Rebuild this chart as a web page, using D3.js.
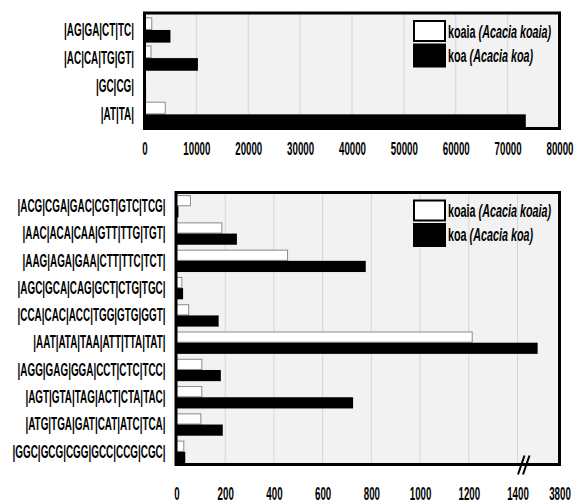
<!DOCTYPE html>
<html><head><meta charset="utf-8">
<script src="https://cdn.jsdelivr.net/npm/d3@7"></script>
<style>
html,body{margin:0;padding:0;background:#fff;}
svg{display:block;}
</style></head><body>
<svg id="chart" width="579" height="504"></svg>
<script>
// ---- data ----
const seriesNames = ["koaia", "koa"];
const seriesLatin = ["(Acacia koaia)", "(Acacia koa)"];

const topCategories = ["|AG|GA|CT|TC|", "|AC|CA|TG|GT|", "|GC|CG|", "|AT|TA|"];
const topKoaia = [1400, 1250, 120, 4000];
const topKoa = [5000, 10300, 300, 73500];
const topTicks = [0, 10000, 20000, 30000, 40000, 50000, 60000, 70000, 80000];

const bottomCategories = [
  "|ACG|CGA|GAC|CGT|GTC|TCG|",
  "|AAC|ACA|CAA|GTT|TTG|TGT|",
  "|AAG|AGA|GAA|CTT|TTC|TCT|",
  "|AGC|GCA|CAG|GCT|CTG|TGC|",
  "|CCA|CAC|ACC|TGG|GTG|GGT|",
  "|AAT|ATA|TAA|ATT|TTA|TAT|",
  "|AGG|GAG|GGA|CCT|CTC|TCC|",
  "|AGT|GTA|TAG|ACT|CTA|TAC|",
  "|ATG|TGA|GAT|CAT|ATC|TCA|",
  "|GGC|GCG|CGG|GCC|CCG|CGC|"
];
const bottomKoaia = [57, 186, 456, 22, 50, 1214, 104, 104, 100, 30];
const bottomKoa = [8, 248, 777, 27, 173, 2550, 182, 725, 190, 36];
const bottomTicks = [0, 200, 400, 600, 800, 1000, 1200, 1400, 3800];

// ---- drawing ----
const FONT = "'Liberation Sans', Arial, sans-serif";
const svg = d3.select("#chart");

function drawPanel(cfg) {
  const { box, categories, koaia, koa, x, ticks, grid, tickPad, padIn, padOut } = cfg;
  const g = svg.append("g");
  g.append("rect")
    .attr("x", box.x0).attr("y", box.y0)
    .attr("width", box.x1 - box.x0).attr("height", box.y1 - box.y0)
    .attr("fill", "#f2f2f2");

  g.append("g").selectAll("line").data(grid).join("line")
    .attr("x1", d => x(d)).attr("x2", d => x(d))
    .attr("y1", box.y0).attr("y2", box.y1)
    .attr("stroke", "#d6d6d6").attr("stroke-width", 1);

  const y = d3.scaleBand().domain(categories)
    .range([box.y0 + 1.5, box.y1 - 1.5])
    .paddingInner(padIn).paddingOuter(padOut).align(1);
  const sub = d3.scaleBand().domain(seriesNames).range([0, y.bandwidth()]);

  const rows = categories.map((c, i) => ({ c, koaia: koaia[i], koa: koa[i] }));

  g.append("g").selectAll("rect").data(rows).join("rect")
    .attr("x", x(0))
    .attr("y", d => y(d.c) + sub("koaia") + 0.5)
    .attr("width", d => Math.max(0, x(d.koaia) - x(0)))
    .attr("height", sub.bandwidth() - 1)
    .attr("fill", "#ffffff").attr("stroke", "#8a8a8a").attr("stroke-width", 1);

  g.append("g").selectAll("rect").data(rows).join("rect")
    .attr("x", x(0))
    .attr("y", d => y(d.c) + sub("koa"))
    .attr("width", d => Math.max(0, x(d.koa) - x(0)))
    .attr("height", sub.bandwidth())
    .attr("fill", "#000000");

  g.append("rect")
    .attr("x", box.x0).attr("y", box.y0)
    .attr("width", box.x1 - box.x0).attr("height", box.y1 - box.y0)
    .attr("fill", "none").attr("stroke", "#000").attr("stroke-width", 3);

  // x axis
  const ax = g.append("g").attr("transform", `translate(0,${box.y1})`)
    .call(d3.axisBottom(x).tickValues(ticks).tickSize(0).tickPadding(tickPad).tickFormat(d3.format("d")));
  ax.select(".domain").remove();
  ax.attr("font-family", FONT).attr("font-size", 18).attr("font-weight", "bold");
  ax.selectAll("text").attr("fill", "#000").attr("transform", "scale(0.54,1)");

  // y axis
  const sy = 0.55;
  const ay = g.append("g").attr("transform", `translate(${box.x0 - 1.5},0)`)
    .call(d3.axisLeft(y).tickSize(0).tickPadding(0));
  ay.select(".domain").remove();
  ay.attr("font-family", FONT).attr("font-size", 18).attr("font-weight", "bold");
  ay.selectAll("text").attr("fill", "#000").attr("x", -9 / sy).attr("transform", `scale(${sy},1)`);

  // legend
  const lg = g.append("g");
  const lx = box.x1 - 145.5;
  lg.append("rect").attr("x", lx).attr("y", box.y0 + 8).attr("width", 31).attr("height", 20)
    .attr("fill", "#fff").attr("stroke", "#000").attr("stroke-width", 2);
  lg.append("rect").attr("x", lx - 1).attr("y", box.y0 + 30.5).attr("width", 33).attr("height", 24)
    .attr("fill", "#000");
  seriesNames.forEach((s, i) => {
    const t = lg.append("text")
      .attr("transform", `translate(${box.x1 - 111.5},${box.y0 + 24.5 + i * 24}) scale(0.6,1)`)
      .attr("font-family", FONT).attr("font-size", 18).attr("font-weight", "bold").attr("fill", "#000");
    t.append("tspan").text(s + " ");
    t.append("tspan").attr("font-style", "italic").text(seriesLatin[i]);
  });
  return { g, y };
}

// top panel
const topBox = { x0: 144.5, x1: 559.5, y0: 13, y1: 128.5 };
const xTop = d3.scaleLinear().domain([0, 80000]).range([topBox.x0, topBox.x1]);
drawPanel({
  box: topBox, categories: topCategories, koaia: topKoaia, koa: topKoa,
  x: xTop, ticks: topTicks, grid: topTicks.slice(1, -1), tickPad: 14,
  padIn: 0.1, padOut: 0.05
});

// bottom panel (broken axis: 1400 -> 3800 compressed)
const botBox = { x0: 176, x1: 559.5, y0: 192.5, y1: 464.5 };
const xBot = d3.scaleLinear().domain([0, 1400, 3800]).range([176.5, 517.5, botBox.x1]);
const bot = drawPanel({
  box: botBox, categories: bottomCategories, koaia: bottomKoaia, koa: bottomKoa,
  x: xBot, ticks: bottomTicks, grid: bottomTicks.slice(1, -1), tickPad: 23,
  padIn: 0.18, padOut: 0.02
});

// axis break mark
const bx = xBot(1400) + 6.5;
const by = botBox.y1;
[-2.5, 2.5].forEach(o => {
  bot.g.append("line")
    .attr("x1", bx + o - 3.5).attr("y1", by + 10)
    .attr("x2", bx + o + 3).attr("y2", by - 9)
    .attr("stroke", "#000").attr("stroke-width", 2);
});
</script>
</body></html>
